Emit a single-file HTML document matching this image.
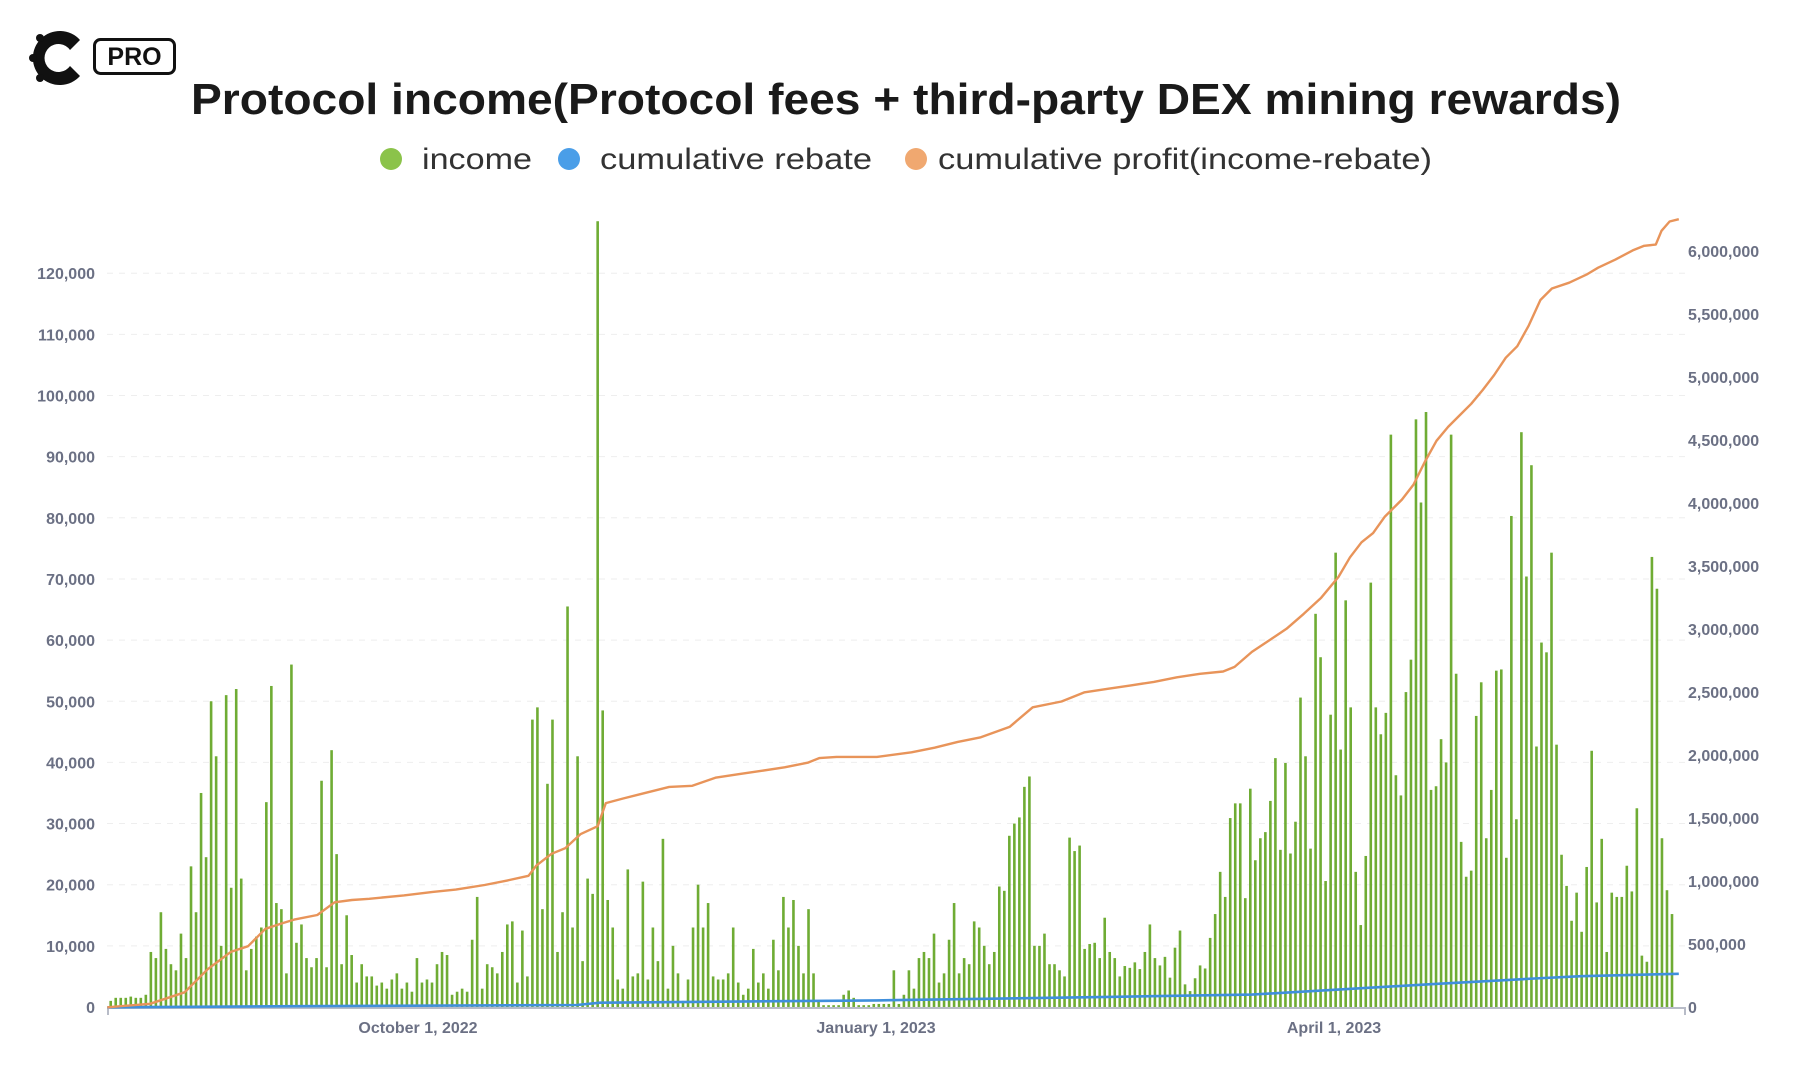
<!DOCTYPE html>
<html><head><meta charset="utf-8"><style>
html,body{margin:0;padding:0;background:#fff;}
svg{display:block;}
</style></head><body>
<svg id="c" width="1800" height="1083" viewBox="0 0 1800 1083" xmlns="http://www.w3.org/2000/svg" font-family="Liberation Sans, sans-serif">
<rect width="1800" height="1083" fill="#fff"/>
<g>
<path d="M80 40 A27 27 0 1 0 80 76 L70 66 A14 14 0 1 1 70 50 Z" fill="#111"/>
<circle cx="40" cy="38" r="4" fill="#111"/><circle cx="33" cy="58" r="4" fill="#111"/><circle cx="40" cy="78" r="4" fill="#111"/>
<rect x="94.5" y="39.5" width="80" height="34" rx="6" fill="#fff" stroke="#111" stroke-width="3"/>
<text x="134.5" y="65" font-size="25" font-weight="bold" text-anchor="middle" fill="#111">PRO</text>
</g>
<text x="906" y="114" font-size="44" font-weight="bold" text-anchor="middle" fill="#1a1a1a" textLength="1430" lengthAdjust="spacingAndGlyphs">Protocol income(Protocol fees + third-party DEX mining rewards)</text>
<circle cx="391" cy="159" r="11" fill="#8bc34a"/>
<text x="422" y="169" font-size="30" fill="#333" textLength="110" lengthAdjust="spacingAndGlyphs">income</text>
<circle cx="569" cy="159" r="11" fill="#4a9ee8"/>
<text x="600" y="169" font-size="30" fill="#333" textLength="272" lengthAdjust="spacingAndGlyphs">cumulative rebate</text>
<circle cx="916" cy="159" r="11" fill="#f0a870"/>
<text x="938" y="169" font-size="30" fill="#333" textLength="494" lengthAdjust="spacingAndGlyphs">cumulative profit(income-rebate)</text>
<g id="grid"></g><g id="bars"></g><g id="lines"></g><g id="labels" font-size="16" font-weight="bold" fill="#6b7084"></g>
</svg>
<script>
var NS="http://www.w3.org/2000/svg";
function el(t,a,p,txt){var e=document.createElementNS(NS,t);for(var k in a)e.setAttribute(k,a[k]);if(txt!==undefined)e.textContent=txt;document.getElementById(p).appendChild(e);return e;}
var Z=1007, L=61.15, R=63.0;
function fmt(n){return n.toString().replace(/\B(?=(\d{3})+(?!\d))/g,",");}
for(var i=0;i<=12;i++){var y=Z-i*L;
 if(i>0)el("line",{x1:107,x2:1685,y1:y,y2:y,stroke:"#eeeeee","stroke-width":1,"stroke-dasharray":"6,6"},"grid");
 el("text",{x:95,y:y+6,"text-anchor":"end"},"labels",fmt(i*10000));}
for(var i=0;i<=12;i++){var y=Z-i*R;el("text",{x:1688,y:y+6},"labels",fmt(i*500000));}
el("text",{x:418,y:1033,"text-anchor":"middle"},"labels","October 1, 2022");
el("text",{x:876,y:1033,"text-anchor":"middle"},"labels","January 1, 2023");
el("text",{x:1334,y:1033,"text-anchor":"middle"},"labels","April 1, 2023");
var d=[1,1.5,1.5,1.5,1.7,1.5,1.5,2,9,8,15.5,9.5,7,6,12,8,23,15.5,35,24.5,50,41,10,51,19.5,52,21,6,9.5,11.5,13,33.5,52.5,17,16,5.5,56,10.5,13.5,8,6.5,8,37,6.5,42,25,7,15,8.5,4,7,5,5,3.5,4,3,4.5,5.5,3,4,2.5,8,4,4.5,4,7,9,8.5,2,2.5,3,2.5,11,18,3,7,6.5,5.5,9,13.5,14,4,12.5,5,47,49,16,36.5,47,9,15.5,65.5,13,41,7.5,21,18.5,128.5,
48.5,17.5,13,4.5,3,22.5,5,5.5,20.5,4.5,13,7.5,27.5,3,10,5.5,1,4.5,13,20,13,17,5,4.5,4.5,5.5,13,4,2,3,9.5,4,5.5,3,11,6,18,13,17.5,10,5.5,16,5.5,1,0.3,0.3,0.3,0.3,2,2.7,1.5,0.3,0.3,0.3,0.5,0.5,0.5,0.5,6,0.5,2,6,3,8,9,8,12,4,5.5,11,17,5.5,8,7,14,13,10,7,9,19.7,19,28,30,31,36,37.7,10,10,12,7,7,6,5,27.7,25.5,26.4,9.5,10.3,10.5,8,14.6,9,8,5,6.7,6.4,7.3,6.2,9,13.5,8,6.8,8.2,4.8,
9.7,12.5,3.7,2.6,4.7,6.8,6.3,11.3,15.2,22.1,18,30.9,33.3,33.3,17.8,35.7,24,27.6,28.6,33.7,40.7,25.7,39.9,25.1,30.3,50.6,41,25.9,64.3,57.2,20.6,47.8,74.3,42.1,66.5,49,22.1,13.4,24.7,69.4,49,44.6,48.1,93.6,37.9,34.6,51.5,56.8,96.1,82.5,97.3,35.5,36.1,43.8,40,93.6,54.5,27,21.3,22.3,47.6,53.1,27.6,35.5,55,55.2,24.4,80.3,30.7,94,70.4,88.6,42.6,59.6,58,74.3,42.9,24.9,19.8,14.1,18.7,12.3,22.9,41.9,17.1,27.5,9,18.7,18,18,23.1,18.9,32.5,8.4,7.4,73.6,68.4,27.6,19.1,15.2];
var x0=110.7,x1=1672,sp=(x1-x0)/(d.length-1);
for(var i=0;i<d.length;i++){var h=d[i]*L/10;var x=x0+i*sp;
 el("rect",{x:(x-1.3).toFixed(2),y:(Z-h).toFixed(2),width:2.6,height:h.toFixed(2),fill:"#6fac34"},"bars");}
el("line",{x1:107,x2:1685,y1:Z+1,y2:Z+1,stroke:"#b8bcc8","stroke-width":2},"bars");
el("line",{x1:108,x2:108,y1:Z,y2:Z+8,stroke:"#b8bcc8","stroke-width":2},"bars");
el("line",{x1:1685,x2:1685,y1:Z,y2:Z+8,stroke:"#b8bcc8","stroke-width":2},"bars");
var s=1800/1560;
function pl(pts,col,w){var p=pts.map(function(q){return (q[0]*s).toFixed(1)+","+(q[1]*s).toFixed(1);}).join(" ");
 el("polyline",{points:p,fill:"none",stroke:col,"stroke-width":w,"stroke-linejoin":"round"},"lines");}
pl([[93,873],[255,872],[500,871],[520,869],[760,867],[830,866],[960,864],[1085,862],[1240,853],[1330,848],[1370,846],[1455,844]],"#3f8fdc",2.6);
pl([[93,873],[130,870],[160,860],[180,840],[200,825],[215,820],[230,805],[245,800],[255,797],[275,793],[290,782],[305,780],[320,779],[350,776],[375,773],[395,771],[420,767],[440,763],[458,759],[465,750],[478,740],[490,735],[503,723],[518,716],[525,696],[540,692],[560,687],[580,682],[600,681],[620,674],[640,671],[660,668],[680,665],[700,661],[710,657],[725,656],[760,656],[790,652],[810,648],[830,643],[850,639],[875,630],[895,613],[920,608],[940,600],[960,597],[980,594],[1000,591],[1020,587],[1040,584],[1060,582],[1070,578],[1085,565],[1100,555],[1115,545],[1130,532],[1145,518],[1160,500],[1170,483],[1180,470],[1190,462],[1200,448],[1215,433],[1225,420],[1235,400],[1245,382],[1255,370],[1265,360],[1275,350],[1285,338],[1295,325],[1305,310],[1315,300],[1325,282],[1335,260],[1345,250],[1360,245],[1375,238],[1385,232],[1400,225],[1415,217],[1425,213],[1435,212],[1440,200],[1447,192],[1455,190]],"#e8945a",2.4);
</script>
</body></html>
